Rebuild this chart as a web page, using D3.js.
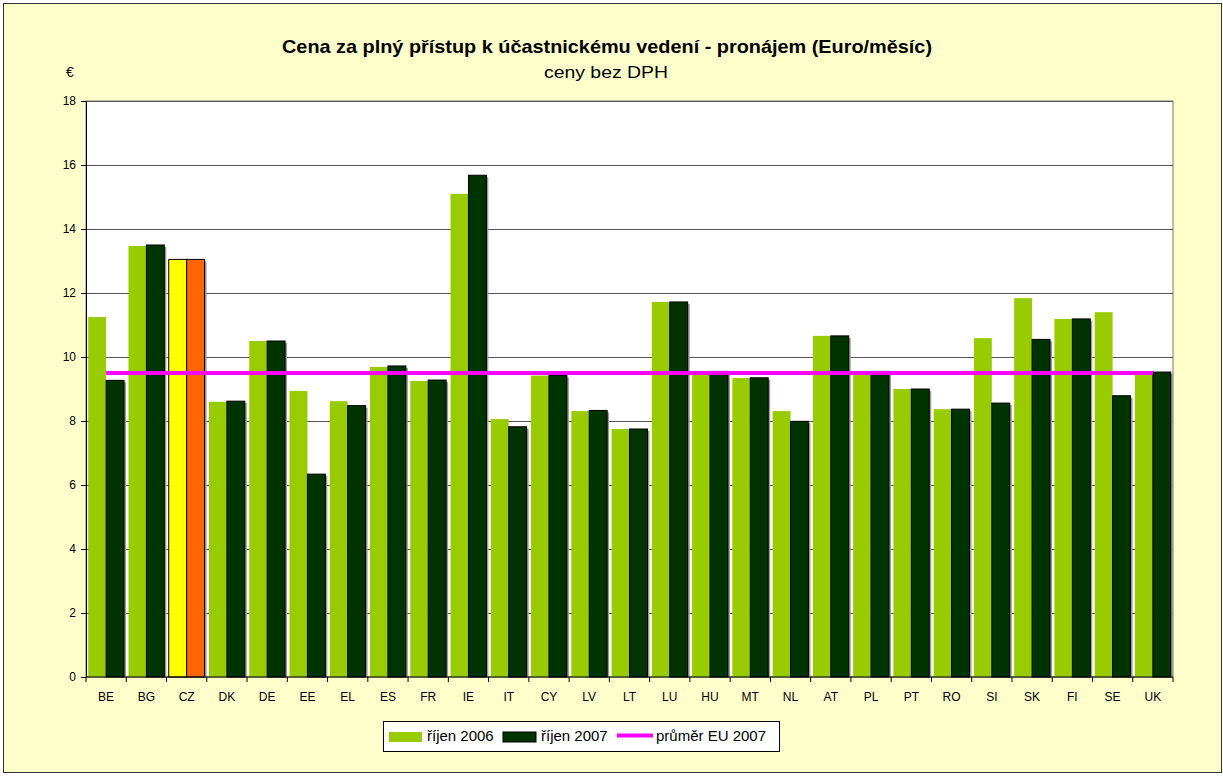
<!DOCTYPE html>
<html>
<head>
<meta charset="utf-8">
<script src="https://cdn.jsdelivr.net/npm/d3@7"></script>
<style>
  body { margin: 0; background: #fff; }
  text { font-family: Arial, "Liberation Sans", sans-serif; fill: #000; }
</style>
</head>
<body>
<svg id="chart"></svg>
<script>
// ---- data ----
const countries = ["BE", "BG", "CZ", "DK", "DE", "EE", "EL", "ES", "FR", "IE", "IT", "CY", "LV", "LT",
  "LU", "HU", "MT", "NL", "AT", "PL", "PT", "RO", "SI", "SK", "FI", "SE", "UK"];
const oct2006 = [11.25, 13.47, 13.05, 8.6, 10.5, 8.94, 8.62, 9.69, 9.25, 15.1, 8.06, 9.42, 8.31, 7.75,
  11.72, 9.55, 9.34, 8.31, 10.66, 9.54, 9.0, 8.37, 10.59, 11.84, 11.19, 11.4, 9.5];
const oct2007 = [9.27, 13.5, 13.05, 8.62, 10.5, 6.34, 8.48, 9.72, 9.28, 15.68, 7.82, 9.42, 8.33, 7.75,
  11.72, 9.55, 9.35, 7.99, 10.66, 9.55, 9.0, 8.37, 8.56, 10.55, 11.19, 8.79, 9.53];
const euAverage2007 = 9.5;
const yTicks = [0, 2, 4, 6, 8, 10, 12, 14, 16, 18];
const seriesNames = ["říjen 2006", "říjen 2007", "průměr EU 2007"];
const highlight = "CZ";

const W = 1223, H = 776;
const plot = { left: 86, right: 1173, top: 101, bottom: 677 };
const colors = { light: "#99CC00", dark: "#003300", czLight: "#FFFF00", czDark: "#FF6600", avg: "#FF00FF" };

const svg = d3.select("#chart").attr("width", W).attr("height", H);

// chart frame
svg.append("rect")
  .attr("x", 3.5).attr("y", 3.5)
  .attr("width", 1218).attr("height", 769)
  .attr("fill", "#FFFFCC")
  .attr("stroke", "#333");

// plot area
svg.append("rect")
  .attr("x", plot.left).attr("y", plot.top)
  .attr("width", plot.right - plot.left).attr("height", plot.bottom - plot.top)
  .attr("fill", "#fff")
  .attr("stroke", "#777");

const x = d3.scaleBand()
  .domain(countries)
  .range([plot.left, plot.right])
  .paddingInner(0.11)
  .paddingOuter(0.055);

const xSub = d3.scaleBand()
  .domain(["2006", "2007"])
  .range([0, x.bandwidth()]);

const y = d3.scaleLinear()
  .domain([0, 18])
  .range([plot.bottom, plot.top]);

// gridlines
svg.append("g")
  .selectAll("line")
  .data(yTicks.filter(d => d > 0))
  .join("line")
  .attr("x1", plot.left).attr("x2", plot.right)
  .attr("y1", d => Math.round(y(d)) + 0.5).attr("y2", d => Math.round(y(d)) + 0.5)
  .attr("stroke", "#555");

const rows = countries.map((c, i) => ({ c, v06: oct2006[i], v07: oct2007[i] }));

const groups = svg.append("g")
  .selectAll("g")
  .data(rows)
  .join("g")
  .attr("transform", d => `translate(${x(d.c)},0)`);

// shadow behind the 2007 bars
groups.append("rect")
  .attr("x", xSub("2007") + 2)
  .attr("y", d => y(d.v07) + 2)
  .attr("width", xSub.bandwidth())
  .attr("height", d => y(0) - y(d.v07) - 2)
  .attr("fill", "#9a9a9a");

groups.append("rect")
  .attr("x", xSub("2006"))
  .attr("y", d => y(d.v06))
  .attr("width", xSub.bandwidth())
  .attr("height", d => y(0) - y(d.v06))
  .attr("fill", d => d.c === highlight ? colors.czLight : colors.light)
  .attr("stroke", d => d.c === highlight ? "#000" : "none");

groups.append("rect")
  .attr("x", xSub("2007"))
  .attr("y", d => y(d.v07))
  .attr("width", xSub.bandwidth())
  .attr("height", d => y(0) - y(d.v07))
  .attr("fill", d => d.c === highlight ? colors.czDark : colors.dark)
  .attr("stroke", "#000");

// EU average line, first to last category centre
const avgLine = d3.line()
  .x(d => x(d) + x.bandwidth() / 2)
  .y(() => y(euAverage2007));

svg.append("path")
  .datum([countries[0], countries[countries.length - 1]])
  .attr("d", avgLine)
  .attr("stroke", colors.avg)
  .attr("stroke-width", 4)
  .attr("fill", "none");

// y axis
const yAxis = svg.append("g")
  .attr("transform", `translate(${plot.left},0)`)
  .call(d3.axisLeft(y).tickValues(yTicks).tickSize(5).tickSizeOuter(0).tickPadding(5));
yAxis.select(".domain").attr("stroke", "#000");
yAxis.selectAll("text").style("font-size", "12px").style("font-family", "Arial, 'Liberation Sans', sans-serif");

// x axis: ticks at category boundaries
const xAxisG = svg.append("g")
  .attr("transform", `translate(0,${plot.bottom})`);
xAxisG.append("line")
  .attr("x1", plot.left).attr("x2", plot.right)
  .attr("stroke", "#000");
xAxisG.selectAll(".tick")
  .data(d3.range(countries.length + 1))
  .join("line")
  .attr("class", "tick")
  .attr("x1", i => plot.left + i * x.step()).attr("x2", i => plot.left + i * x.step())
  .attr("y1", 0).attr("y2", 5)
  .attr("stroke", "#000");
xAxisG.selectAll(".lbl")
  .data(countries)
  .join("text")
  .attr("class", "lbl")
  .attr("x", d => x(d) + x.bandwidth() / 2)
  .attr("y", 24)
  .attr("text-anchor", "middle")
  .style("font-size", "12px")
  .text(d => d);

// titles (the reference text is a little stretched sideways)
svg.append("text")
  .attr("x", 607).attr("y", 53)
  .attr("text-anchor", "middle")
  .attr("textLength", 650).attr("lengthAdjust", "spacingAndGlyphs")
  .style("font-size", "18.5px").style("font-weight", "bold")
  .text("Cena za plný přístup k účastnickému vedení - pronájem (Euro/měsíc)");
svg.append("text")
  .attr("x", 606).attr("y", 78)
  .attr("text-anchor", "middle")
  .attr("textLength", 124).attr("lengthAdjust", "spacingAndGlyphs")
  .style("font-size", "16px")
  .text("ceny bez DPH");
svg.append("text")
  .attr("x", 70).attr("y", 77)
  .attr("text-anchor", "middle")
  .style("font-size", "14px")
  .text("€");

// legend
const legend = svg.append("g").attr("transform", "translate(383,721)");
legend.append("rect")
  .attr("x", 0.5).attr("y", 0.5)
  .attr("width", 396).attr("height", 30)
  .attr("fill", "#fff").attr("stroke", "#000");

const legendItems = [
  { name: seriesNames[0], type: "rect", color: colors.light, x: 6, tx: 44 },
  { name: seriesNames[1], type: "rect", color: colors.dark, x: 120, tx: 158 },
  { name: seriesNames[2], type: "line", color: colors.avg, x: 234, tx: 273 }
];

const li = legend.selectAll(".legend-item")
  .data(legendItems)
  .join("g")
  .attr("class", "legend-item");

li.filter(d => d.type === "rect").append("rect")
  .attr("x", d => d.x).attr("y", 11)
  .attr("width", 33).attr("height", 10)
  .attr("fill", d => d.color)
  .attr("stroke", d => d.color === colors.dark ? "#000" : "none");

li.filter(d => d.type === "line").append("line")
  .attr("x1", d => d.x).attr("x2", d => d.x + 36)
  .attr("y1", 14.5).attr("y2", 14.5)
  .attr("stroke", d => d.color).attr("stroke-width", 4);

li.append("text")
  .attr("x", d => d.tx).attr("y", 20)
  .style("font-size", "15px")
  .text(d => d.name);
</script>
</body>
</html>
